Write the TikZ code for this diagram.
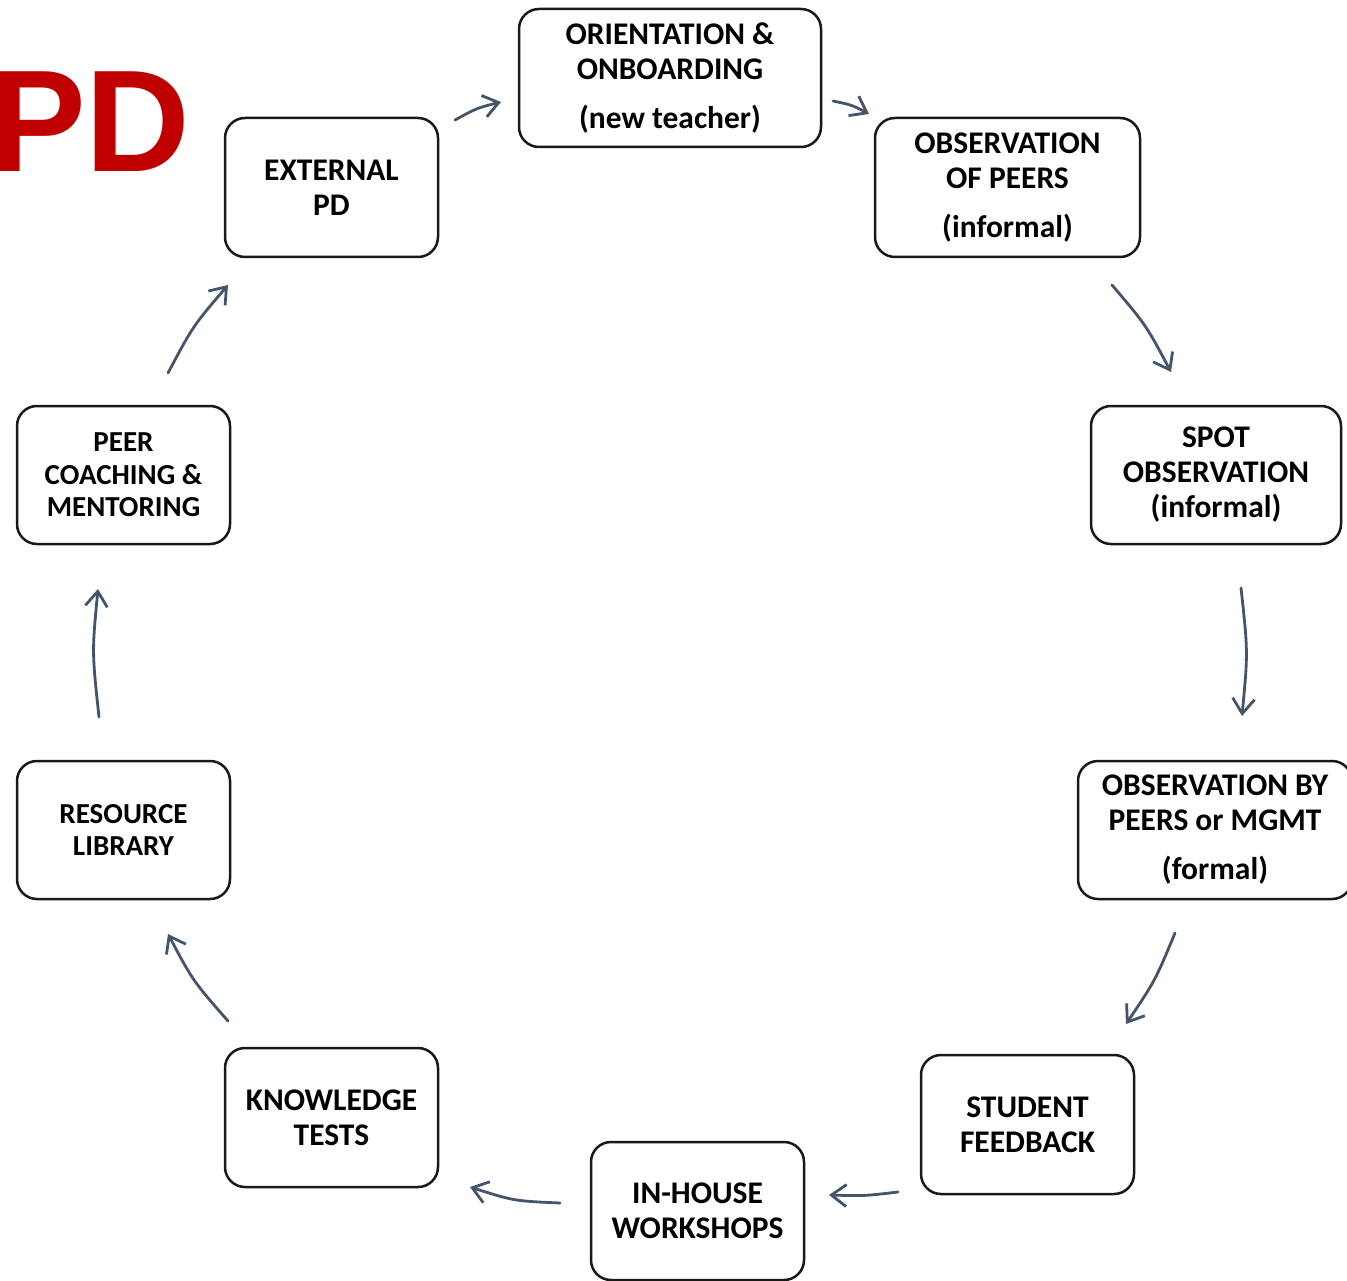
\documentclass[tikz,border=0pt]{standalone}
\usepackage{fontspec}
\setmainfont{Carlito}
\newfontfamily\arialfam{Liberation Sans}
\usetikzlibrary{arrows.meta}
\definecolor{pdred}{HTML}{C00000}
\definecolor{arrowcol}{HTML}{44546A}
\begin{document}
\begin{tikzpicture}[x=1pt,y=-1pt,
  box/.style={draw=black!90, line width=2.5pt, rounded corners=20pt, align=center,
    inner sep=0pt, fill=white, font=\fontsize{31.5}{35}\selectfont\bfseries},
  smallbox/.style={box, font=\fontsize{29}{32.5}\selectfont\bfseries},
  flow/.style={draw=arrowcol, line width=2.8pt, line cap=round,
    -{Straight Barb[length=15pt,width=22pt,line width=2.8pt]}}]
\useasboundingbox (0,0) rectangle (1347,1281);
\fill[white] (0,0) rectangle (1347,1281);

\node[anchor=base west, inner sep=0pt, text=pdred,
  font=\arialfam\bfseries\fontsize{145}{150}\selectfont] (pd) at (-11,172) {PD};

\node[box, minimum width=302pt, minimum height=138pt] (orient) at (670,78)
  {ORIENTATION \&\\ONBOARDING\\[14pt](new teacher)};
\node[box, minimum width=265pt, minimum height=139pt] (obspeers) at (1007.5,187.5)
  {OBSERVATION\\OF PEERS\\[14pt](informal)};
\node[box, minimum width=250pt, minimum height=138pt] (spot) at (1216,475)
  {SPOT\\OBSERVATION\\(informal)};
\node[box, minimum width=274pt, minimum height=138pt] (formal) at (1215,830)
  {OBSERVATION BY\\PEERS or MGMT\\[14pt](formal)};
\node[box, minimum width=213pt, minimum height=139pt] (student) at (1027.5,1124.5)
  {STUDENT\\FEEDBACK};
\node[box, minimum width=213pt, minimum height=138pt] (inhouse) at (697.5,1211)
  {IN-HOUSE\\WORKSHOPS};
\node[box, minimum width=213pt, minimum height=139pt] (knowledge) at (331.5,1117.5)
  {KNOWLEDGE\\TESTS};
\node[smallbox, minimum width=213pt, minimum height=138pt] (resource) at (123.5,830)
  {RESOURCE\\LIBRARY};
\node[smallbox, minimum width=213pt, minimum height=138pt] (peer) at (123.5,475)
  {PEER\\COACHING \&\\MENTORING};
\node[box, minimum width=213pt, minimum height=139pt] (external) at (331.5,187.5)
  {EXTERNAL\\PD};

% arrow end points
\coordinate (a1s) at (455,120);  \coordinate (a1e) at (501,102);
\coordinate (a2s) at (833,101);  \coordinate (a2e) at (869,114);
\coordinate (a3s) at (1112,285); \coordinate (a3e) at (1171,372);
\coordinate (a4s) at (1241,588); \coordinate (a4e) at (1242,716);
\coordinate (a5s) at (1175,933); \coordinate (a5e) at (1126,1024);
\coordinate (a6s) at (898,1192); \coordinate (a6e) at (829,1195);
\coordinate (a7s) at (560,1203); \coordinate (a7e) at (470,1187);
\coordinate (a8s) at (228,1021); \coordinate (a8e) at (168,934);
\coordinate (a9s) at (99,717);   \coordinate (a9e) at (98,589);
\coordinate (a10s) at (168,373); \coordinate (a10e) at (228,285);

\draw[flow] (a1s) .. controls (477,108) .. (a1e);
\draw[flow] (a2s) .. controls (852,105) .. (a2e);
\draw[flow] (a3s) .. controls (1146,325) .. (a3e);
\draw[flow] (a4s) .. controls (1248,652) .. (a4e);
\draw[flow] (a5s) .. controls (1155,981) .. (a5e);
\draw[flow] (a6s) .. controls (864,1196) .. (a6e);
\draw[flow] (a7s) .. controls (514,1201) .. (a7e);
\draw[flow] (a8s) .. controls (193,981) .. (a8e);
\draw[flow] (a9s) .. controls (92,652) .. (a9e);
\draw[flow] (a10s) .. controls (193,326) .. (a10e);
\end{tikzpicture}
\end{document}
